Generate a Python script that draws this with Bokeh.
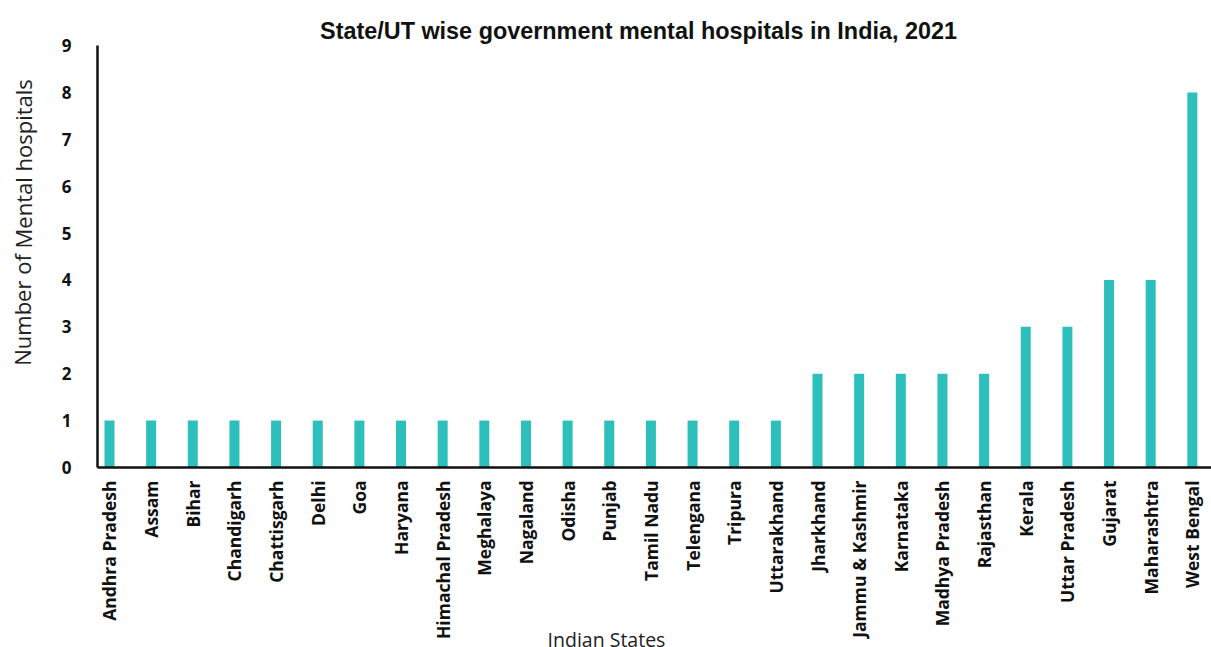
from bokeh.plotting import figure
from bokeh.models import Range1d, FixedTicker, Label, ColumnDataSource
from bokeh.core.properties import value
from bokeh.embed import file_html
from bokeh.resources import INLINE

states = ["Andhra Pradesh", "Assam", "Bihar", "Chandigarh", "Chattisgarh", "Delhi", "Goa",
          "Haryana", "Himachal Pradesh", "Meghalaya", "Nagaland", "Odisha", "Punjab",
          "Tamil Nadu", "Telengana", "Tripura", "Uttarakhand", "Jharkhand", "Jammu & Kashmir",
          "Karnataka", "Madhya Pradesh", "Rajasthan", "Kerala", "Uttar Pradesh", "Gujarat",
          "Maharashtra", "West Bengal"]
hospitals = [1, 1, 1, 1, 1, 1, 1, 1, 1, 1, 1, 1, 1, 1, 1, 1, 1, 2, 2, 2, 2, 2, 3, 3, 4, 4, 8]
y_ticks = [0, 1, 2, 3, 4, 5, 6, 7, 8, 9]

idx = list(range(len(states)))
src = ColumnDataSource(dict(x=idx, top=hospitals, name=states, base=[0] * len(states)))

X_AXIS_AT = -0.29   # where the value axis crosses the category axis
X_END = 26.46

p = figure(width=1211, height=647, output_backend="svg", toolbar_location=None,
           x_range=Range1d(-2.617, X_END), y_range=Range1d(-3.84, 9.96),
           min_border_left=0, min_border_right=0, min_border_bottom=0, min_border_top=0)

p.vbar(x="x", top="top", width=0.24, source=src, color="#2CBFBC", line_color=None)

# category labels under the baseline
p.text(x="x", y="base", text="name", source=src, angle=1.5707963, y_offset=13,
       text_align="right", text_baseline="middle", text_font=value("Open Sans"),
       text_font_style="bold", text_font_size=value("17.5px"), text_color="#111111")

p.xgrid.visible = False
p.ygrid.visible = False
p.outline_line_color = None

p.xaxis.fixed_location = 0
p.xaxis.bounds = (X_AXIS_AT, X_END)
p.xaxis.ticker = FixedTicker(ticks=[])
p.xaxis.major_tick_line_color = None
p.xaxis.minor_tick_line_color = None
p.xaxis.axis_line_color = "#111111"
p.xaxis.axis_line_width = 2.5

p.yaxis.fixed_location = X_AXIS_AT
p.yaxis.ticker = FixedTicker(ticks=y_ticks)
p.yaxis.bounds = (0, 9)
p.yaxis.major_label_text_font = "Open Sans"
p.yaxis.major_label_text_font_style = "bold"
p.yaxis.major_label_text_font_size = "17px"
p.yaxis.major_label_text_color = "#111111"
p.yaxis.major_label_standoff = 20
p.yaxis.major_tick_line_color = None
p.yaxis.minor_tick_line_color = None
p.yaxis.axis_line_color = "#111111"
p.yaxis.axis_line_width = 2.5

p.add_layout(Label(x=638, y=617, x_units="screen", y_units="screen",
                   text="State/UT wise government mental hospitals in India, 2021",
                   text_font="Liberation Sans", text_font_size="23.4px", text_font_style="bold",
                   text_align="center", text_baseline="middle", text_color="#111111"))

p.add_layout(Label(x=22, y=425, x_units="screen", y_units="screen",
                   text="Number of Mental hospitals", angle=1.5707963,
                   text_font="Open Sans", text_font_size="22px", text_align="center",
                   text_baseline="middle", text_color="#222222"))

p.add_layout(Label(x=606, y=8.5, x_units="screen", y_units="screen", text="Indian States",
                   text_font="Open Sans", text_font_size="19.5px", text_align="center",
                   text_baseline="middle", text_color="#222222"))

open("out.html", "w").write(file_html(p, INLINE))
